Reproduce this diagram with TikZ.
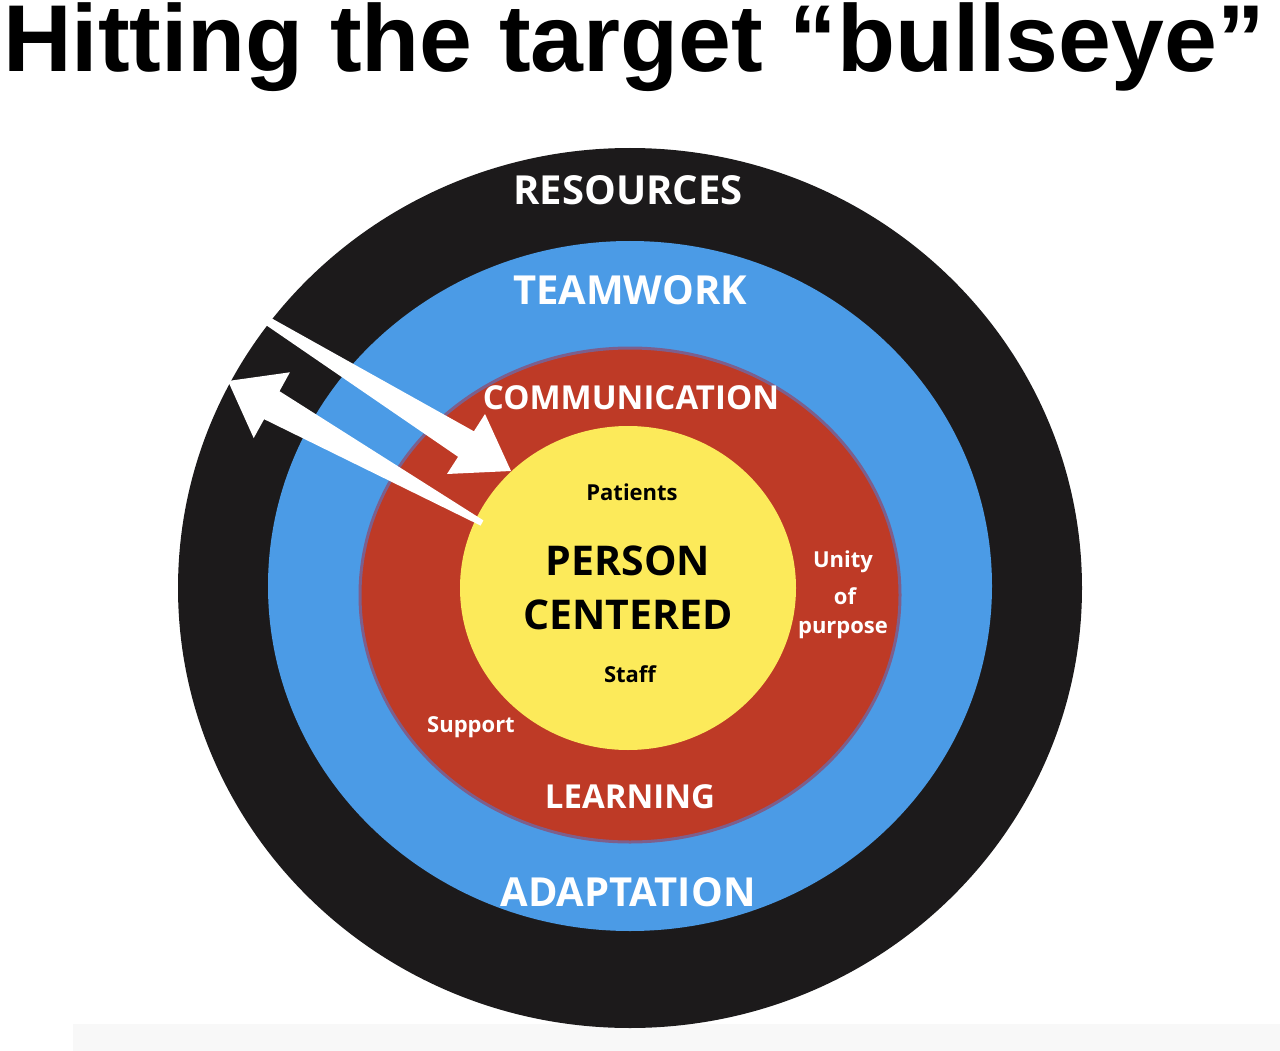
\documentclass[tikz,border=0pt]{standalone}
\usepackage{fontspec}
\setmainfont{Liberation Sans}
\newfontfamily\osf{Open Sans}
\definecolor{ringblack}{RGB}{28,26,27}
\definecolor{ringblue}{RGB}{75,155,230}
\definecolor{ringred}{RGB}{190,58,38}
\definecolor{ringyellow}{RGB}{252,234,90}
\definecolor{ringedge}{RGB}{125,95,140}
\definecolor{bandgrey}{RGB}{248,248,248}
\tikzset{
  lbl/.style={inner sep=0pt, anchor=center},
  big/.style={lbl, text=white, font=\osf\bfseries\fontsize{40}{40}\selectfont},
  mid/.style={lbl, text=white, font=\osf\bfseries\fontsize{33}{33}\selectfont},
  small/.style={lbl, font=\osf\bfseries\fontsize{22}{22}\selectfont},
  core/.style={lbl, text=black, font=\osf\bfseries\fontsize{41}{41}\selectfont},
  blockarrow/.style={fill=white, draw=none}
}
\begin{document}
\begin{tikzpicture}[x=1pt,y=-1pt]
\useasboundingbox (0,0) rectangle (1280,1051);
\fill[white] (0,0) rectangle (1280,1051);
% faint band at the bottom
\fill[bandgrey] (73,1024) rectangle (1280,1051);
% title
\node[inner sep=0pt, anchor=base west, font=\bfseries\fontsize{95}{95}\selectfont] (title) at (3,72) {Hitting the target “bullseye”};
% rings
\fill[ringblack] (630,588) ellipse [x radius=452, y radius=440];
\fill[ringblue] (630,586) ellipse [x radius=362, y radius=345];
\filldraw[fill=ringred, draw=ringedge, line width=3pt] (630,595) ellipse [x radius=270, y radius=247];
\fill[ringyellow] (628,588) ellipse [x radius=168, y radius=162];
% arrows
\fill[blockarrow] (264.1,314.1) -- (473.9,431.3) -- (485,414) -- (511,471) -- (447,474) -- (458.1,456.8) -- (259.9,320.9) -- cycle;
\fill[blockarrow] (483.4,520.4) -- (279.5,391.2) -- (289.9,372.3) -- (228,381) -- (253.7,438.1) -- (264.1,419.2) -- (480.6,525.6) -- cycle;
% labels
\node[big] (resources) at (628,190) {RESOURCES};
\node[big] (teamwork) at (630,290) {TEAMWORK};
\node[mid] (communication) at (631,398) {COMMUNICATION};
\node[small, text=black] (patients) at (632,492) {Patients};
\node[core] (person) at (628,561) {PERSON};
\node[core] (centered) at (628,615) {CENTERED};
\node[small, text=black] (staff) at (630,674) {Staff};
\node[small, text=white] (unity) at (843,562) {Unity};
\node[small, text=white] (of) at (845,596) {of};
\node[small, text=white] (purpose) at (843,630) {purpose};
\node[small, text=white] (support) at (471,727) {Support};
\node[mid] (learning) at (630,797) {LEARNING};
\node[big] (adaptation) at (628,892) {ADAPTATION};
\end{tikzpicture}
\end{document}
